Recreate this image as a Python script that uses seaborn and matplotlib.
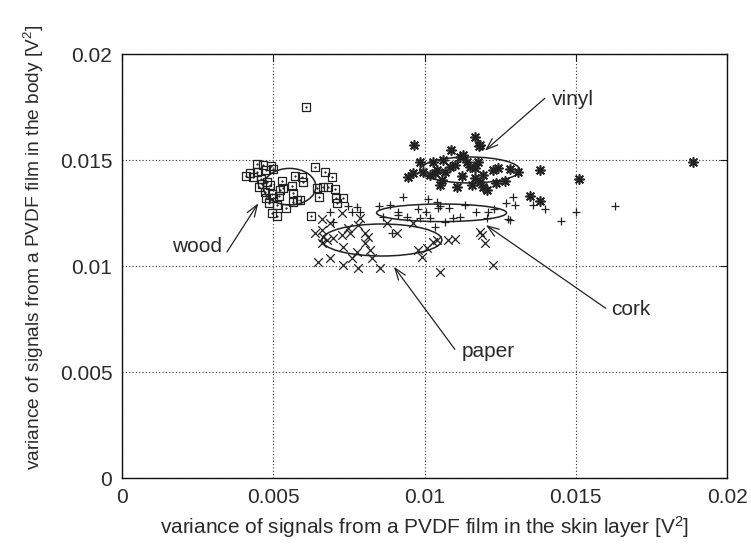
import matplotlib
matplotlib.use("Agg")
import matplotlib.pyplot as plt
import seaborn as sns
from matplotlib.patches import Ellipse

# ---------------- data ----------------
wood_x = [0.006080, 0.004451, 0.004669, 0.004913, 0.004229, 0.004318, 0.004758, 0.004979,
          0.004583, 0.004781, 0.004890, 0.004537, 0.004725, 0.004946, 0.004999, 0.004758,
          0.004867, 0.005277, 0.005220, 0.005330, 0.005607, 0.005716, 0.005937, 0.005970,
          0.005660, 0.005197, 0.005772, 0.005881, 0.005660, 0.005111, 0.005419, 0.004946,
          0.005111, 0.006377, 0.006707, 0.006929, 0.006433, 0.006651, 0.006816, 0.007038,
          0.006519, 0.007071, 0.007312, 0.007094, 0.006235, 0.004097, 0.004461, 0.004626]
wood_y = [0.017514, 0.014811, 0.014764, 0.014717, 0.014373, 0.014184, 0.014528, 0.014561,
          0.014090, 0.013976, 0.013821, 0.013712, 0.013505, 0.013396, 0.013193, 0.013193,
          0.012958, 0.014024, 0.013585, 0.013665, 0.013774, 0.014245, 0.014184, 0.013976,
          0.013429, 0.013302, 0.013113, 0.013113, 0.013033, 0.012877, 0.012722, 0.012486,
          0.012358, 0.014656, 0.014448, 0.014184, 0.013665, 0.013741, 0.013712, 0.013618,
          0.013269, 0.013193, 0.013222, 0.012958, 0.012358, 0.014245, 0.014434, 0.013868]

vinyl_x = [0.011663, 0.011806, 0.009658, 0.010871, 0.011277, 0.009846, 0.010286, 0.010616,
           0.011168, 0.011389, 0.011498, 0.011773, 0.011663, 0.010838, 0.011003, 0.010398,
           0.009955, 0.009625, 0.009460, 0.010177, 0.010342, 0.010563, 0.010507, 0.011059,
           0.011554, 0.011663, 0.011829, 0.011938, 0.012050, 0.012268, 0.012433, 0.012820,
           0.013094, 0.012357, 0.012655, 0.013834, 0.013481, 0.013811, 0.011829, 0.011938,
           0.015110, 0.018876, 0.010672, 0.011234]
vinyl_y = [0.016099, 0.015660, 0.015708, 0.015472, 0.015236, 0.014920, 0.014920, 0.015000,
           0.015127, 0.014920, 0.014684, 0.014920, 0.014608, 0.014684, 0.014764, 0.014528,
           0.014448, 0.014373, 0.014212, 0.014292, 0.014373, 0.014057, 0.013821, 0.013741,
           0.013821, 0.014137, 0.013976, 0.013741, 0.013585, 0.014528, 0.014608, 0.014561,
           0.014448, 0.013929, 0.014024, 0.014528, 0.013302, 0.013066, 0.015708, 0.014292,
           0.014090, 0.014892, 0.014434, 0.014245]

cork_x = [0.009294, 0.010120, 0.010398, 0.010507, 0.010805, 0.008502, 0.008855, 0.009129,
          0.009790, 0.011697, 0.012103, 0.012291, 0.012688, 0.012929, 0.012985, 0.013590,
          0.013977, 0.012764, 0.014528, 0.008614, 0.009407, 0.009846, 0.010177, 0.010947,
          0.011168, 0.012050, 0.010342, 0.009129, 0.010451, 0.010672, 0.012820, 0.006873,
          0.007477, 0.007755, 0.007590, 0.007864, 0.006982, 0.008911, 0.015024, 0.016289,
          0.011333, 0.010045]
cork_y = [0.013269, 0.013146, 0.013033, 0.012830, 0.012722, 0.012830, 0.012877, 0.012561,
          0.012675, 0.012561, 0.012561, 0.012675, 0.012986, 0.013269, 0.012877, 0.012877,
          0.012675, 0.012203, 0.012137, 0.012325, 0.012325, 0.012250, 0.012250, 0.012250,
          0.012297, 0.012250, 0.011825, 0.012406, 0.012722, 0.012090, 0.012170, 0.012561,
          0.012830, 0.012797, 0.012561, 0.012561, 0.012090, 0.011542, 0.012561, 0.012830,
          0.012877, 0.012547]

paper_x = [0.006598, 0.007259, 0.007864, 0.006873, 0.006598, 0.006651, 0.006763, 0.006598,
           0.007477, 0.007533, 0.007808, 0.008029, 0.008138, 0.007259, 0.006982, 0.007312,
           0.008029, 0.008194, 0.007755, 0.006873, 0.007590, 0.007312, 0.007808, 0.008250,
           0.008525, 0.009076, 0.008746, 0.009625, 0.009790, 0.009902, 0.010068, 0.010286,
           0.010398, 0.010781, 0.011003, 0.011829, 0.011885, 0.011994, 0.010507, 0.012268,
           0.006377, 0.006476]
paper_y = [0.012203, 0.012486, 0.012250, 0.012043, 0.011698, 0.011382, 0.011226, 0.011071,
           0.011778, 0.011542, 0.011934, 0.011542, 0.011382, 0.011462, 0.011307, 0.010911,
           0.011071, 0.010755, 0.010675, 0.010363, 0.010363, 0.010047, 0.009892, 0.010363,
           0.009892, 0.011542, 0.012014, 0.012014, 0.010755, 0.010439, 0.010835, 0.011146,
           0.011226, 0.011226, 0.011260, 0.011618, 0.011462, 0.011071, 0.009731, 0.010047,
           0.011557, 0.010189]

# class ellipses: name, centre x, centre y, width, height
ell_names = ["wood", "vinyl", "cork", "paper"]
ell_cx = [0.005540, 0.011498, 0.010563, 0.008591]
ell_cy = [0.013741, 0.014528, 0.012509, 0.011226]
ell_w = [0.001738, 0.003304, 0.004295, 0.003965]
ell_h = [0.001726, 0.001226, 0.000830, 0.001510]

# annotation labels: text, text x, text y, arrow tail, arrow head, alignment
lab_text = ["wood", "vinyl", "cork", "paper"]
lab_x = [0.003304, 0.014198, 0.016181, 0.011224]
lab_y = [0.010660, 0.017594, 0.007689, 0.005722]
lab_ha = ["right", "left", "left", "left"]
arr_tail = [(0.003469, 0.010660), (0.013977, 0.017910), (0.015992, 0.008005), (0.011003, 0.006071)]
arr_head = [(0.004504, 0.012958), (0.011994, 0.015439), (0.012027, 0.011934), (0.008987, 0.009967)]

ticks = [0, 0.005, 0.01, 0.015, 0.02]
tick_labels = ["0", "0.005", "0.01", "0.015", "0.02"]
xlabel = "variance of signals from a PVDF film in the skin layer [V$^2$]"
ylabel = "variance of signals from a PVDF film in the body [V$^2$]"

# ---------------- styling ----------------
sns.set_theme(style="white")
plt.rcParams["font.family"] = ["Liberation Sans", "DejaVu Sans"]
plt.rcParams["mathtext.fontset"] = "custom"
plt.rcParams["mathtext.rm"] = "Liberation Sans"
plt.rcParams["mathtext.it"] = "Liberation Sans:italic"
plt.rcParams["mathtext.bf"] = "Liberation Sans:bold"
txt = "#2a2a2a"
plt.rcParams["text.color"] = txt
plt.rcParams["axes.labelcolor"] = txt
plt.rcParams["xtick.color"] = "#1a1a1a"
plt.rcParams["ytick.color"] = "#1a1a1a"
plt.rcParams["xtick.labelcolor"] = txt
plt.rcParams["ytick.labelcolor"] = txt

FS = 15
ink = "#222222"

fig = plt.figure(figsize=(7.51, 5.44), dpi=100)
ax = fig.add_axes([122 / 751, 66 / 544, 605 / 751, 424 / 544])

# wood: square with centre dot
sns.scatterplot(x=wood_x, y=wood_y, marker="s", s=32, facecolor="none",
                edgecolor=ink, linewidth=0.9, ax=ax, zorder=3)
sns.scatterplot(x=wood_x, y=wood_y, marker=".", s=6, color=ink,
                edgecolor=ink, linewidth=0.3, ax=ax, zorder=3)
# vinyl: asterisk (plus + cross)
sns.scatterplot(x=vinyl_x, y=vinyl_y, marker=(8, 2, 0), s=44, color=ink,
                linewidth=1.2, ax=ax, zorder=3)
# cork: plus
sns.scatterplot(x=cork_x, y=cork_y, marker="+", s=38, color=ink,
                linewidth=0.9, ax=ax, zorder=3)
# paper: cross
sns.scatterplot(x=paper_x, y=paper_y, marker="x", s=38, color=ink,
                linewidth=0.9, ax=ax, zorder=3)

for cx, cy, w, h in zip(ell_cx, ell_cy, ell_w, ell_h):
    ax.add_patch(Ellipse((cx, cy), w, h, fill=False, edgecolor=ink,
                         linewidth=1.1, zorder=4))

for t, tx, ty, ha, tail, head in zip(lab_text, lab_x, lab_y, lab_ha, arr_tail, arr_head):
    ax.text(tx, ty, t, ha=ha, va="baseline", fontsize=FS)
    ax.annotate("", xy=head, xytext=tail,
                arrowprops=dict(arrowstyle="->,head_length=0.7,head_width=0.25",
                                color=ink, linewidth=0.9, shrinkA=0, shrinkB=0))

ax.set_xlim(0, 0.02)
ax.set_ylim(0, 0.02)
ax.set_xticks(ticks)
ax.set_xticklabels(tick_labels)
ax.set_yticks(ticks)
ax.set_yticklabels(tick_labels)
ax.grid(True, linestyle=(0, (1, 2)), color="#333333", linewidth=0.8)
ax.tick_params(direction="in", top=True, right=True, length=5, width=0.8,
               labelsize=FS, pad=7)
for sp in ax.spines.values():
    sp.set_visible(True)
    sp.set_color("#111111")
    sp.set_linewidth(1.0)
ax.set_xlabel(xlabel, fontsize=FS, labelpad=5)
ax.set_ylabel(ylabel, fontsize=13.8)
ax.yaxis.set_label_coords(-0.126, 0.545)

fig.savefig("out.png", dpi=100)
